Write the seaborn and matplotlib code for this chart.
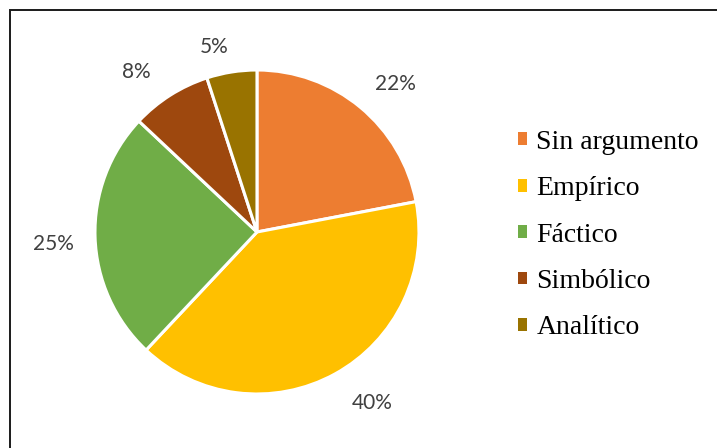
import matplotlib
matplotlib.use("Agg")
import matplotlib.pyplot as plt
from matplotlib.patches import Rectangle
import seaborn as sns

# Data
categorias = ["Sin argumento", "Empírico", "Fáctico", "Simbólico", "Analítico"]
porcentajes = [22, 40, 25, 8, 5]
colores = ["#ED7D31", "#FFC000", "#70AD47", "#9E480E", "#997300"]

# small per-label nudges (pixels, x right / y down) for the outside labels
ajustes_px = [(10, 7), (18, -5), (-3, 6), (-13, 10), (-11, 13)]

sns.set_theme(style="white")
plt.rcParams["font.family"] = ["Lato", "DejaVu Sans"]

fig = plt.figure(figsize=(7.17, 4.48), dpi=100)
fig.patch.set_facecolor("white")

# square axes so the pie sits left of the legend
ax = fig.add_axes([0.0421, -0.0241, 0.6326, 1.0125])
palette = sns.color_palette(colores)

wedges, _, autotexts = ax.pie(
    porcentajes,
    colors=palette,
    startangle=90,
    counterclock=False,
    radius=1.0,
    autopct=lambda p: f"{p:.0f}%",
    pctdistance=1.24,
    wedgeprops=dict(edgecolor="white", linewidth=2.2),
    textprops=dict(color="#404040", fontsize=15, family=["Lato", "DejaVu Sans"]),
)
ax.set_xlim(-1.4, 1.4)
ax.set_ylim(-1.4, 1.4)
ax.set_aspect("equal")
ax.axis("off")

# pixels per data unit for this axes
px_por_unidad = 0.6326 * 717 / 2.8
for t, (dx, dy) in zip(autotexts, ajustes_px):
    x, y = t.get_position()
    t.set_position((x + dx / px_por_unidad, y - dy / px_por_unidad))

leg = fig.legend(
    wedges,
    categorias,
    loc="center left",
    bbox_to_anchor=(518 / 717, 0.4754),
    frameon=False,
    borderaxespad=0,
    borderpad=0,
    handlelength=0.33,
    handleheight=0.33,
    handletextpad=0.33,
    labelspacing=0.77,
    prop=dict(family=["Liberation Serif", "DejaVu Serif"], size=20),
    labelcolor="black",
)
for h in leg.legend_handles:
    h.set_edgecolor("none")

# chart frame
fig.add_artist(Rectangle((9.5 / 717, -0.1), 1.2, 0.9766 + 0.1,
                         transform=fig.transFigure, fill=False,
                         edgecolor="#1a1a1a", linewidth=1.4, clip_on=False))

fig.savefig("out.png", dpi=100, facecolor="white")
